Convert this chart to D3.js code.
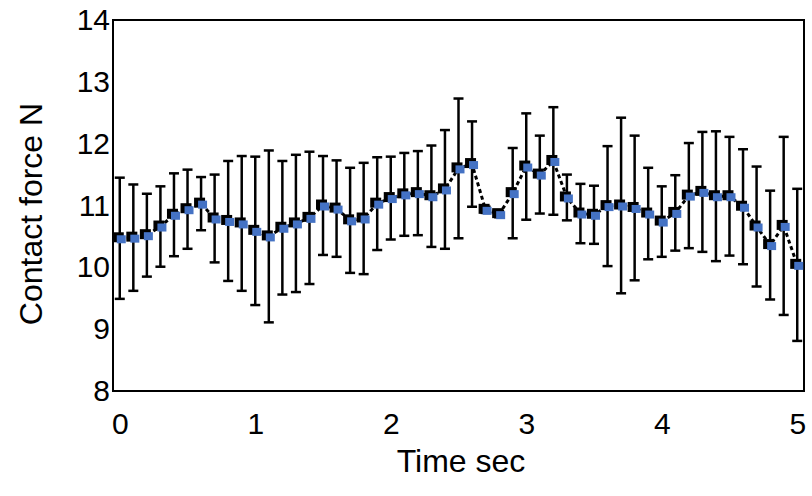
<!DOCTYPE html>
<html>
<head>
<meta charset="utf-8">
<script src="https://cdn.jsdelivr.net/npm/d3@7"></script>
<style>
  body { margin: 0; background: #fff; }
  text { font-family: "Liberation Sans", Arial, sans-serif; fill: #000; }
</style>
</head>
<body>
<script>
// time (sec)
var times = [0.0, 0.1, 0.2, 0.3, 0.4, 0.5, 0.6, 0.7, 0.8, 0.9,
             1.0, 1.1, 1.2, 1.3, 1.4, 1.5, 1.6, 1.7, 1.8, 1.9,
             2.0, 2.1, 2.2, 2.3, 2.4, 2.5, 2.6, 2.7, 2.8, 2.9,
             3.0, 3.1, 3.2, 3.3, 3.4, 3.5, 3.6, 3.7, 3.8, 3.9,
             4.0, 4.1, 4.2, 4.3, 4.4, 4.5, 4.6, 4.7, 4.8, 4.9, 5.0];
// mean contact force (N)
var force = [10.47, 10.48, 10.52, 10.66, 10.85, 10.94, 11.03, 10.79, 10.75, 10.71,
             10.59, 10.50, 10.64, 10.71, 10.80, 11.00, 10.95, 10.76, 10.79, 11.03,
             11.12, 11.18, 11.20, 11.15, 11.26, 11.60, 11.67, 10.93, 10.86, 11.20,
             11.63, 11.50, 11.72, 11.13, 10.87, 10.85, 10.99, 11.00, 10.96, 10.87,
             10.74, 10.88, 11.16, 11.22, 11.15, 11.15, 10.98, 10.66, 10.36, 10.67, 10.04];
// standard deviation (N)
var sd = [0.98, 0.86, 0.67, 0.65, 0.67, 0.64, 0.43, 0.71, 0.97, 1.09,
          1.20, 1.39, 1.08, 1.11, 1.07, 0.80, 0.78, 0.85, 0.90, 0.75,
          0.67, 0.67, 0.68, 0.82, 0.96, 1.13, 0.69, 0.05, 0.05, 0.73,
          0.86, 0.63, 0.87, 0.37, 0.48, 0.47, 0.97, 1.42, 1.17, 0.74,
          0.57, 0.61, 0.85, 0.97, 1.05, 0.96, 0.93, 0.97, 0.88, 1.44, 1.23];
var xTicks = [0, 1, 2, 3, 4, 5];
var yTicks = [8, 9, 10, 11, 12, 13, 14];

var data = times.map(function(t, i) { return {t: t, v: force[i], e: sd[i]}; });

var svg = d3.select("body").append("svg")
    .attr("width", 812)
    .attr("height", 496);

var x = d3.scaleLinear().domain([-0.05, 5.05]).range([113, 804]);
var y = d3.scaleLinear().domain([8, 14]).range([391, 20]);

// x axis labels
svg.append("g").attr("transform", "translate(0,391)")
  .call(d3.axisBottom(x).tickValues(xTicks).tickSize(0).tickPadding(22).tickFormat(d3.format("d")))
  .call(function(g) { g.select(".domain").remove(); })
  .selectAll("text").style("font-size", "30px").attr("font-family", null);

// y axis labels
svg.append("g").attr("transform", "translate(113,0)")
  .call(d3.axisLeft(y).tickValues(yTicks).tickSize(0).tickPadding(3).tickFormat(d3.format("d")))
  .call(function(g) { g.select(".domain").remove(); })
  .selectAll("text").style("font-size", "30px").attr("font-family", null);

// plot frame
svg.append("rect")
    .attr("x", x.range()[0]).attr("y", y.range()[1])
    .attr("width", x.range()[1] - x.range()[0])
    .attr("height", y.range()[0] - y.range()[1])
    .attr("fill", "none").attr("stroke", "#000").attr("stroke-width", 2);

// error bars
var eb = svg.append("g").attr("stroke", "#000").attr("stroke-width", 2.5);
eb.selectAll(".v").data(data).enter().append("line")
    .attr("x1", function(d) { return x(d.t); }).attr("x2", function(d) { return x(d.t); })
    .attr("y1", function(d) { return y(d.v + d.e); }).attr("y2", function(d) { return y(d.v - d.e); });
eb.selectAll(".top").data(data).enter().append("line")
    .attr("x1", function(d) { return x(d.t) - 5; }).attr("x2", function(d) { return x(d.t) + 5; })
    .attr("y1", function(d) { return y(d.v + d.e); }).attr("y2", function(d) { return y(d.v + d.e); });
eb.selectAll(".bot").data(data).enter().append("line")
    .attr("x1", function(d) { return x(d.t) - 5; }).attr("x2", function(d) { return x(d.t) + 5; })
    .attr("y1", function(d) { return y(d.v - d.e); }).attr("y2", function(d) { return y(d.v - d.e); });

// dashed connecting line
var line = d3.line().x(function(d) { return x(d.t); }).y(function(d) { return y(d.v); });
svg.append("path").datum(data)
    .attr("d", line)
    .attr("fill", "none").attr("stroke", "#000")
    .attr("stroke-width", 3).attr("stroke-dasharray", "4,3");

// markers: black square with blue square offset
svg.selectAll(".mk").data(data).enter().append("rect")
    .attr("x", function(d) { return x(d.t) - 7; })
    .attr("y", function(d) { return y(d.v) - 6; })
    .attr("width", 11).attr("height", 10)
    .attr("fill", "#000");
svg.selectAll(".mb").data(data).enter().append("rect")
    .attr("x", function(d) { return x(d.t) - 3; })
    .attr("y", function(d) { return y(d.v) - 3; })
    .attr("width", 9).attr("height", 8)
    .attr("fill", "#4472C4");

// axis titles
svg.append("text").attr("x", 461).attr("y", 472)
    .attr("text-anchor", "middle").style("font-size", "32px").text("Time sec");
svg.append("text").attr("transform", "translate(42,214) rotate(-90)")
    .attr("text-anchor", "middle").style("font-size", "32px").text("Contact force N");
</script>
</body>
</html>
